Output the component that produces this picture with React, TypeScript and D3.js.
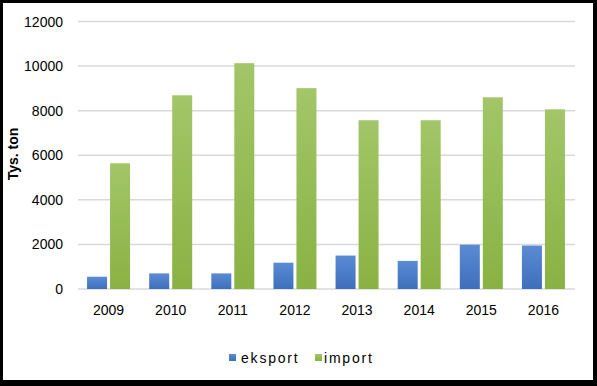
import React from "react";
import * as d3 from "d3";

const years = ["2009", "2010", "2011", "2012", "2013", "2014", "2015", "2016"];
const eksport = [550, 700, 700, 1180, 1500, 1260, 1990, 1950];
const importVals = [5640, 8690, 10130, 9010, 7570, 7570, 8600, 8060];
const yTicks = [0, 2000, 4000, 6000, 8000, 10000, 12000];
const seriesNames = ["eksport", "import"];

const W = 597;
const H = 386;
const font = "Liberation Sans, Arial, sans-serif";

export default function App() {
  const x = d3.scaleBand<string>().domain(years).range([78, 575]);
  const y = d3.scaleLinear().domain([0, 12000]).range([289, 21.5]);
  const barW = 20;
  const gap = 3;

  return (
    <svg
      width={W}
      height={H}
      style={{ position: "fixed", left: 0, top: 0, display: "block" }}
      xmlns="http://www.w3.org/2000/svg"
    >
      <defs>
        <linearGradient id="gBlue" x1="0" y1="0" x2="0" y2="1">
          <stop offset="0" stopColor="#5a8bd3" />
          <stop offset="1" stopColor="#3f6fbc" />
        </linearGradient>
        <linearGradient id="gGreen" x1="0" y1="0" x2="0" y2="1">
          <stop offset="0" stopColor="#a2c668" />
          <stop offset="1" stopColor="#89b243" />
        </linearGradient>
      </defs>
      <rect x={0} y={0} width={W} height={H} fill="#000" />
      <rect x={3} y={3} width={590} height={377} fill="#fff" />

      {yTicks.map((t) => (
        <g key={t}>
          <line x1={78} x2={575} y1={y(t)} y2={y(t)} stroke="#d9d9d9" strokeWidth={1.5} />
          <text
            x={63}
            y={y(t)}
            dy="0.36em"
            textAnchor="end"
            fontFamily={font}
            fontSize={14}
            fill="#000"
          >
            {t}
          </text>
        </g>
      ))}

      {years.map((yr, i) => {
        const c = (x(yr) as number) + x.bandwidth() / 2 - 0.5;
        return (
          <g key={yr}>
            <rect
              x={c - gap / 2 - barW}
              y={y(eksport[i])}
              width={barW}
              height={y(0) - y(eksport[i])}
              fill="url(#gBlue)"
            />
            <rect
              x={c + gap / 2}
              y={y(importVals[i])}
              width={barW}
              height={y(0) - y(importVals[i])}
              fill="url(#gGreen)"
            />
            <text
              x={c}
              y={315}
              textAnchor="middle"
              fontFamily={font}
              fontSize={14}
              fill="#000"
            >
              {yr}
            </text>
          </g>
        );
      })}

      <text
        transform={`translate(18,154) rotate(-90)`}
        textAnchor="middle"
        fontFamily={font}
        fontSize={14}
        fontWeight="bold"
        fill="#000"
      >
        Tys. ton
      </text>

      <g>
        <rect x={229} y={354} width={7} height={7} fill="url(#gBlue)" />
        <text x={241} y={363} fontFamily={font} fontSize={14} letterSpacing={1.8} fill="#000">
          {seriesNames[0]}
        </text>
        <rect x={315} y={354} width={7} height={7} fill="url(#gGreen)" />
        <text x={324} y={363} fontFamily={font} fontSize={14} letterSpacing={1.8} fill="#000">
          {seriesNames[1]}
        </text>
      </g>
    </svg>
  );
}
